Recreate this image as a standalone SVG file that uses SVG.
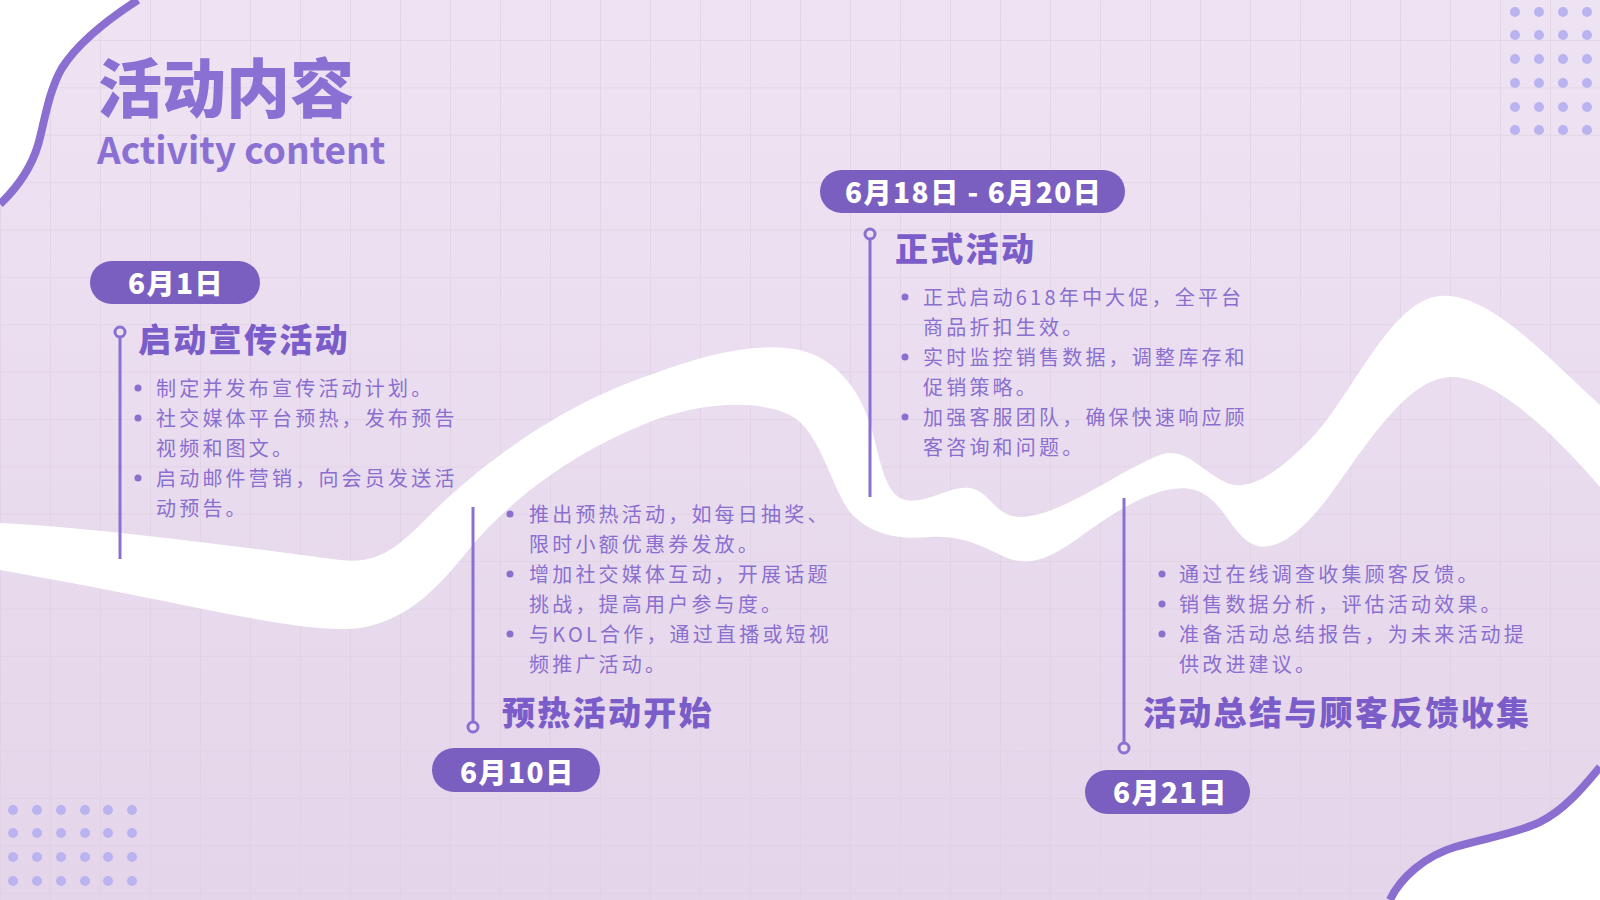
<svg xmlns="http://www.w3.org/2000/svg" width="1600" height="900" viewBox="0 0 1600 900">
<defs>
<linearGradient id="bg" x1="0" y1="0" x2="0" y2="1">
<stop offset="0" stop-color="#eee3f3"/>
<stop offset="1" stop-color="#e5d5ea"/>
</linearGradient>
<pattern id="grid" patternUnits="userSpaceOnUse" x="0" y="40" width="50" height="47.37">
<path d="M0,0.5 H50 M0.5,0 V47.37" fill="none" stroke="#dccfe0" stroke-width="1" stroke-opacity="0.6"/>
</pattern>
<style>
.pill{fill:#7a5fc0}
.date{font-family:"Noto Sans CJK SC",sans-serif;font-weight:900;font-size:28px;fill:#ffffff;letter-spacing:1.5px}
.head{font-family:"Noto Sans CJK SC",sans-serif;font-weight:900;font-size:33px;fill:#7b5dc9;letter-spacing:2.3px}
.body{font-family:"Noto Sans CJK SC",sans-serif;font-weight:400;font-size:20px;fill:#8a6fcf;letter-spacing:3.2px}
.dot{fill:#8a6fcf}
.tl{stroke:#8a70d0;stroke-width:3;fill:none}
.ring{stroke:#8a70d0;stroke-width:3;fill:#ece0f1}
.deco{fill:#b9b3ef}
.edge{fill:none;stroke:#8a6fd1;stroke-width:8}
</style>
</defs>
<rect width="1600" height="900" fill="url(#bg)"/>
<rect width="1600" height="900" fill="url(#grid)"/>

<g id="ribbon">
<path fill="#ffffff" d="M0,523 C100,528 250,548 340,560 C380,565 400,545 430,515 C480,465 560,405 650,375 C710,352 760,342 800,350 C840,360 862,395 872,430 C880,460 885,495 905,500 C925,505 950,485 970,488 C990,491 995,517 1020,517 C1060,517 1120,470 1160,455 C1185,446 1200,470 1225,482 C1250,494 1280,470 1310,440 C1350,400 1390,300 1440,296 C1490,292 1550,360 1600,405 L1600,487 C1560,440 1500,380 1455,377 C1410,374 1370,440 1330,495 C1300,535 1275,552 1255,545 C1230,535 1225,500 1195,490 C1160,480 1110,515 1080,537 C1050,558 1030,568 1005,557 C980,545 960,535 930,537 C900,540 870,535 850,512 C830,485 820,430 790,415 C760,400 700,400 640,426 C570,455 510,500 470,548 C440,585 410,620 360,628 C300,635 200,605 0,570 Z"/>
</g>

<g id="corner-top-left">
<path fill="#ffffff" d="M0,0 L138,0 C110,18 80,40 62,68 C48,92 44,125 38,145 C32,165 20,185 0,204 Z"/>
<path class="edge" d="M138,0 C110,18 80,40 62,68 C48,92 44,125 38,145 C32,165 20,185 0,204"/>
</g>
<g id="corner-bottom-right">
<path fill="#ffffff" d="M1600,767 C1585,785 1565,810 1540,822 C1515,834 1485,838 1455,847 C1425,856 1400,878 1390,900 L1600,900 Z"/>
<path class="edge" d="M1600,767 C1585,785 1565,810 1540,822 C1515,834 1485,838 1455,847 C1425,856 1400,878 1390,900"/>
</g>

<g id="dots-top-right">
<circle class="deco" cx="1515" cy="12" r="5"/><circle class="deco" cx="1539" cy="12" r="5"/><circle class="deco" cx="1563" cy="12" r="5"/><circle class="deco" cx="1587" cy="12" r="5"/>
<circle class="deco" cx="1515" cy="35" r="5"/><circle class="deco" cx="1539" cy="35" r="5"/><circle class="deco" cx="1563" cy="35" r="5"/><circle class="deco" cx="1587" cy="35" r="5"/>
<circle class="deco" cx="1515" cy="59" r="5"/><circle class="deco" cx="1539" cy="59" r="5"/><circle class="deco" cx="1563" cy="59" r="5"/><circle class="deco" cx="1587" cy="59" r="5"/>
<circle class="deco" cx="1515" cy="83" r="5"/><circle class="deco" cx="1539" cy="83" r="5"/><circle class="deco" cx="1563" cy="83" r="5"/><circle class="deco" cx="1587" cy="83" r="5"/>
<circle class="deco" cx="1515" cy="107" r="5"/><circle class="deco" cx="1539" cy="107" r="5"/><circle class="deco" cx="1563" cy="107" r="5"/><circle class="deco" cx="1587" cy="107" r="5"/>
<circle class="deco" cx="1515" cy="130" r="5"/><circle class="deco" cx="1539" cy="130" r="5"/><circle class="deco" cx="1563" cy="130" r="5"/><circle class="deco" cx="1587" cy="130" r="5"/>
</g>
<g id="dots-bottom-left">
<circle class="deco" cx="13" cy="810" r="5"/><circle class="deco" cx="37" cy="810" r="5"/><circle class="deco" cx="61" cy="810" r="5"/><circle class="deco" cx="85" cy="810" r="5"/><circle class="deco" cx="108" cy="810" r="5"/><circle class="deco" cx="132" cy="810" r="5"/>
<circle class="deco" cx="13" cy="833" r="5"/><circle class="deco" cx="37" cy="833" r="5"/><circle class="deco" cx="61" cy="833" r="5"/><circle class="deco" cx="85" cy="833" r="5"/><circle class="deco" cx="108" cy="833" r="5"/><circle class="deco" cx="132" cy="833" r="5"/>
<circle class="deco" cx="13" cy="857" r="5"/><circle class="deco" cx="37" cy="857" r="5"/><circle class="deco" cx="61" cy="857" r="5"/><circle class="deco" cx="85" cy="857" r="5"/><circle class="deco" cx="108" cy="857" r="5"/><circle class="deco" cx="132" cy="857" r="5"/>
<circle class="deco" cx="13" cy="881" r="5"/><circle class="deco" cx="37" cy="881" r="5"/><circle class="deco" cx="61" cy="881" r="5"/><circle class="deco" cx="85" cy="881" r="5"/><circle class="deco" cx="108" cy="881" r="5"/><circle class="deco" cx="132" cy="881" r="5"/>
</g>

<g id="title">
<text x="98" y="112" font-family="'Noto Sans CJK SC',sans-serif" font-weight="900" font-size="64" fill="#8b70d3">活动内容</text>
<text x="97" y="164" font-family="'Noto Sans CJK SC',sans-serif" font-weight="700" font-size="37" fill="#8b70d3">Activity content</text>
</g>

<g id="connectors">
<line class="tl" x1="120" y1="337" x2="120" y2="559"/>
<circle class="ring" cx="120" cy="332" r="5"/>
<line class="tl" x1="473" y1="507" x2="473" y2="722"/>
<circle class="ring" cx="473" cy="727" r="5"/>
<line class="tl" x1="870" y1="239" x2="870" y2="497"/>
<circle class="ring" cx="870" cy="234" r="5"/>
<line class="tl" x1="1124" y1="498" x2="1124" y2="743"/>
<circle class="ring" cx="1124" cy="748" r="5"/>
</g>

<g id="node-jun1">
<rect class="pill" x="90" y="261" width="170" height="43" rx="21.5"/>
<text class="date" x="128" y="294">6月1日</text>
<text class="head" x="138" y="352">启动宣传活动</text>
<circle class="dot" cx="138" cy="388" r="3.5"/>
<text class="body" x="156" y="396">制定并发布宣传活动计划。</text>
<circle class="dot" cx="138" cy="418" r="3.5"/>
<text class="body" x="156" y="426">社交媒体平台预热，发布预告</text>
<text class="body" x="156" y="456">视频和图文。</text>
<circle class="dot" cx="138" cy="478" r="3.5"/>
<text class="body" x="156" y="486">启动邮件营销，向会员发送活</text>
<text class="body" x="156" y="516">动预告。</text>
</g>

<g id="node-jun10">
<rect class="pill" x="432" y="748" width="168" height="44" rx="22"/>
<text class="date" x="460" y="783">6月10日</text>
<text class="head" x="502" y="725">预热活动开始</text>
<circle class="dot" cx="510" cy="514" r="3.5"/>
<text class="body" x="529" y="522">推出预热活动，如每日抽奖、</text>
<text class="body" x="529" y="552">限时小额优惠券发放。</text>
<circle class="dot" cx="510" cy="574" r="3.5"/>
<text class="body" x="529" y="582">增加社交媒体互动，开展话题</text>
<text class="body" x="529" y="612">挑战，提高用户参与度。</text>
<circle class="dot" cx="510" cy="634" r="3.5"/>
<text class="body" x="529" y="642">与KOL合作，通过直播或短视</text>
<text class="body" x="529" y="672">频推广活动。</text>
</g>

<g id="node-jun18">
<rect class="pill" x="820" y="170" width="305" height="43" rx="21.5"/>
<text class="date" x="845" y="203" xml:space="preserve">6月18日 - 6月20日</text>
<text class="head" x="895" y="261">正式活动</text>
<circle class="dot" cx="905" cy="297" r="3.5"/>
<text class="body" x="923" y="305">正式启动618年中大促，全平台</text>
<text class="body" x="923" y="335">商品折扣生效。</text>
<circle class="dot" cx="905" cy="357" r="3.5"/>
<text class="body" x="923" y="365">实时监控销售数据，调整库存和</text>
<text class="body" x="923" y="395">促销策略。</text>
<circle class="dot" cx="905" cy="417" r="3.5"/>
<text class="body" x="923" y="425">加强客服团队，确保快速响应顾</text>
<text class="body" x="923" y="455">客咨询和问题。</text>
</g>

<g id="node-jun21">
<rect class="pill" x="1085" y="770" width="165" height="44" rx="22"/>
<text class="date" x="1113" y="803">6月21日</text>
<text class="head" x="1143" y="725">活动总结与顾客反馈收集</text>
<circle class="dot" cx="1162" cy="574" r="3.5"/>
<text class="body" x="1179" y="582">通过在线调查收集顾客反馈。</text>
<circle class="dot" cx="1162" cy="604" r="3.5"/>
<text class="body" x="1179" y="612">销售数据分析，评估活动效果。</text>
<circle class="dot" cx="1162" cy="634" r="3.5"/>
<text class="body" x="1179" y="642">准备活动总结报告，为未来活动提</text>
<text class="body" x="1179" y="672">供改进建议。</text>
</g>
</svg>
